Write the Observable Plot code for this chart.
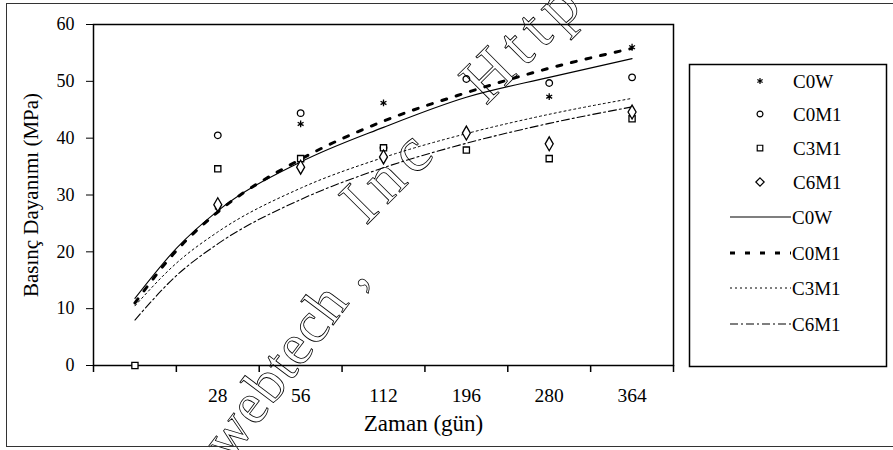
<!DOCTYPE html>
<html><head><meta charset="utf-8">
<script src="https://cdn.jsdelivr.net/npm/d3@7"></script>
<script src="https://cdn.jsdelivr.net/npm/@observablehq/plot@0.6"></script>
<style>
body{margin:0;background:#fff;}
#wrap{position:relative;width:893px;height:450px;overflow:hidden;font-family:"Liberation Serif",serif;background:#fff;}
#wrap svg{position:absolute;left:0;top:0;font-family:"Liberation Serif",serif;}
#border{position:absolute;left:6px;top:3px;width:900px;height:444px;border:1.5px solid #333;box-sizing:border-box;z-index:5;pointer-events:none;}
</style></head><body><div id="wrap"><div id="border"></div></div>
<script>
// categories (x axis, category axis)
const categories = ["", "28", "56", "112", "196", "280", "364"];
const catIndex = [1, 2, 3, 4, 5, 6, 7];
const tickBoundaries = [0.5, 1.5, 2.5, 3.5, 4.5, 5.5, 6.5, 7.5];
const yTicks = [0, 10, 20, 30, 40, 50, 60];
const seriesNames = ["C0W", "C0M1", "C3M1", "C6M1"];

// measured points (MPa)
const obsC0W  = [null, 27.8, 42.5, 46.2, null, 47.3, 56.0];
const obsC0M1 = [null, 40.5, 44.4, 38.3, 50.4, 49.7, 50.7];
const obsC3M1 = [0,    34.6, 36.4, 38.3, 37.9, 36.4, 43.4];
const obsC6M1 = [null, 28.3, 34.9, 36.7, 40.9, 39.0, 44.6];

// trend curves
const trendX    = [1, 1.5, 2, 3, 4, 5, 6, 7];
const trendC0W  = [11.8, 20.6, 27.2, 35.8, 41.9, 47.2, 50.7, 54.0];
const trendC0M1 = [11.0, 20.2, 27.0, 36.3, 43.0, 48.0, 52.3, 55.8];
const trendC3M1 = [10.5, 18.0, 23.5, 31.2, 36.6, 40.8, 44.2, 47.0];
const trendC6M1 = [ 8.0, 15.8, 21.4, 29.2, 34.8, 39.1, 42.6, 45.5];

const xTitle = "Zaman (gün)";
const yTitle = "Basınç Dayanımı (MPa)";
const watermarkA = "webtech ,";
const watermarkB = "Inc Http://www";

const obs = [obsC0W, obsC0M1, obsC3M1, obsC6M1];
const trends = [trendC0W, trendC0M1, trendC3M1, trendC6M1];
const symbols = ["asterisk", "circle", "square", "diamond"];
const symR = [3.2, 3.3, 3.5, 4.2];
const dashes = [null, "5,10", "2,3", "8,3,2,3"];
const widths = [1.1, 3, 1, 1.1];

const pts = s => catIndex.map((x, i) => ({x, y: obs[s][i]})).filter(d => d.y != null);
const tr = s => trendX.map((x, i) => ({x, y: trends[s][i]}));

const marks = [
  Plot.frame({stroke: "#000", strokeWidth: 1.5}),
  Plot.axisY(yTicks, {tickSize: 7, tickPadding: 12, label: null, fontSize: 18, fontFamily: "Liberation Serif"}),
  Plot.axisX(tickBoundaries, {tickSize: 7, tickFormat: () => "", label: null, strokeWidth: 1.5}),
  Plot.axisX(catIndex.slice(1), {tickSize: 0, tickPadding: 23, tickFormat: d => categories[d - 1], label: null, fontSize: 19.5, fontFamily: "Liberation Serif"}),
];
seriesNames.forEach((n, s) => {
  marks.push(Plot.line(tr(s), {x: "x", y: "y", curve: "monotone-x", stroke: "#000",
    strokeWidth: widths[s], strokeDasharray: dashes[s] || undefined}));
});
seriesNames.forEach((n, s) => {
  marks.push(Plot.dot(pts(s), {x: "x", y: "y", symbol: () => symbols[s], r: symR[s],
    stroke: "#000", strokeWidth: 1.3, fill: s === 0 ? "#000" : "white"}));
});
marks.push(Plot.text([yTitle], {frameAnchor: "left", textAnchor: "middle", rotate: -90, dx: -62, fontSize: 21, fill: "#000", fontFamily: "Liberation Serif"}));
marks.push(Plot.text([xTitle], {frameAnchor: "bottom", textAnchor: "middle", dy: 65, dx: 40, fontSize: 23, fill: "#000", fontFamily: "Liberation Serif"}));

const chart = Plot.plot({
  width: 893, height: 450,
  marginLeft: 93, marginRight: 220, marginTop: 24, marginBottom: 85,
  style: {fontFamily: "Liberation Serif", fontSize: "17px", color: "#000", background: "transparent"},
  x: {domain: [0.5, 7.5]},
  y: {domain: [0, 60]},
  symbol: {type: "identity"},
  marks
});
const wrap = document.getElementById("wrap");
wrap.appendChild(chart);

// overlay: watermark + legend
const ov = d3.select(wrap).append("svg").attr("width", 893).attr("height", 450)
  .style("font-family", "Liberation Serif");
const wm = (txt, tf, fs, ls, ws) => ov.append("text").text(txt)
  .attr("transform", tf).attr("font-size", fs).attr("fill", "none")
  .attr("stroke", "#000").attr("stroke-width", 0.8)
  .style("letter-spacing", ls + "px").style("word-spacing", ws + "px");
wm(watermarkA, "translate(230,462) rotate(-53)", 58, 1, 0);
wm(watermarkB, "translate(366,226) rotate(-45)", 64, 8, 40);

const lg = ov.append("g");
lg.append("rect").attr("x", 689.5).attr("y", 64.5).attr("width", 197).attr("height", 302)
  .attr("fill", "white").attr("stroke", "#000").attr("stroke-width", 1.5);
const rowY = [81, 114, 148, 182, 217, 253, 288, 324];
const d3sym = {asterisk: d3.symbolAsterisk, circle: d3.symbolCircle, square: d3.symbolSquare, diamond: d3.symbolDiamond2};
seriesNames.forEach((n, s) => {
  const y = rowY[s];
  lg.append("path").attr("d", d3.symbol(d3sym[symbols[s]], Math.PI * symR[s] * symR[s] * 0.8)())
    .attr("transform", `translate(760,${y})`).attr("fill", s === 0 ? "#000" : "white")
    .attr("stroke", "#000").attr("stroke-width", 1.2);
  lg.append("text").attr("x", 793).attr("y", y).attr("dy", "0.35em").attr("font-size", 19).text(n);
});
seriesNames.forEach((n, s) => {
  const y = rowY[s + 4];
  lg.append("line").attr("x1", 730).attr("x2", 791).attr("y1", y).attr("y2", y)
    .attr("stroke", "#000").attr("stroke-width", widths[s])
    .attr("stroke-dasharray", dashes[s] || null);
  lg.append("text").attr("x", 792).attr("y", y).attr("dy", "0.35em").attr("font-size", 19).text(n);
});
</script></body></html>
